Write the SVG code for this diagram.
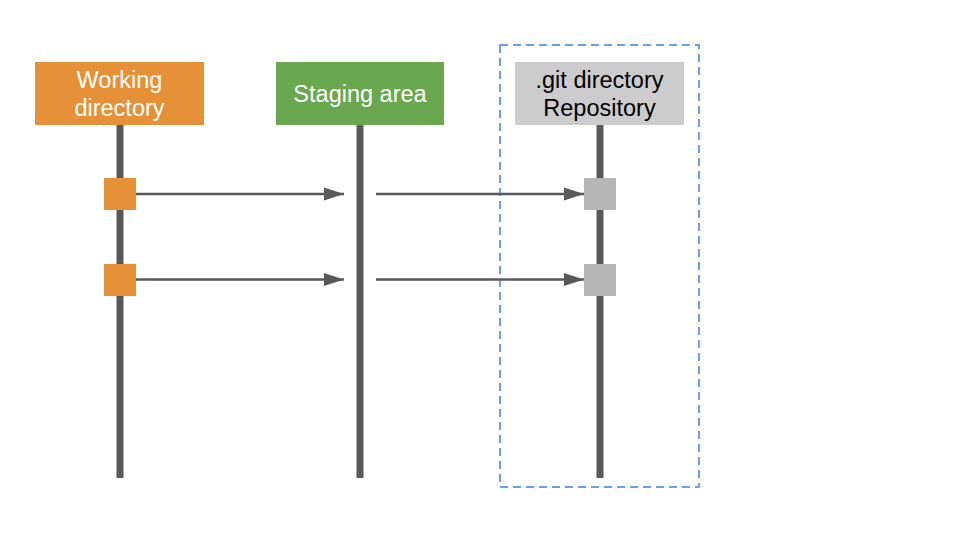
<svg xmlns="http://www.w3.org/2000/svg" width="960" height="540" viewBox="0 0 960 540">
<defs>
<style>
.lbl{font-family:"Liberation Sans",Arial,sans-serif;font-size:23.5px;text-anchor:middle}
.life{stroke:#595959;stroke-width:7}
.conn{stroke:#595959;stroke-width:2.5;fill:none}
</style>
<marker id="ah" markerWidth="20" markerHeight="14" viewBox="0 0 20 14" refX="20" refY="7" markerUnits="userSpaceOnUse" orient="auto">
<path d="M0,0.5 L20,7 L0,13.5 Z" fill="#595959"/>
</marker>
</defs>
<rect width="960" height="540" fill="#ffffff"/>
<g id="repo-boundary">
<rect x="500" y="45" width="199" height="442" fill="none" stroke="#6d9eeb" stroke-width="2" stroke-dasharray="8,5"/>
</g>
<g id="working">
<rect x="35" y="62" width="169" height="63" fill="#e69138"/>
<text class="lbl" x="119.5" y="88" fill="#ffffff">Working</text>
<text class="lbl" x="119.5" y="116" fill="#ffffff">directory</text>
<line class="life" x1="120" y1="125" x2="120" y2="478"/>
</g>
<g id="staging">
<rect x="276" y="62" width="168" height="63" fill="#6aa84f"/>
<text class="lbl" x="360" y="102" fill="#ffffff">Staging area</text>
<line class="life" x1="360" y1="125" x2="360" y2="478"/>
</g>
<g id="repository">
<rect x="515" y="62" width="169" height="63" fill="#cccccc"/>
<text class="lbl" x="599.5" y="88" fill="#000000">.git directory</text>
<text class="lbl" x="599.5" y="116" fill="#000000">Repository</text>
<line class="life" x1="600" y1="125" x2="600" y2="478"/>
</g>
<g id="connectors">
<line class="conn" x1="136" y1="194" x2="344" y2="194" marker-end="url(#ah)"/>
<line class="conn" x1="376" y1="194" x2="584" y2="194" marker-end="url(#ah)"/>
<line class="conn" x1="136" y1="279.5" x2="344" y2="279.5" marker-end="url(#ah)"/>
<line class="conn" x1="376" y1="279.5" x2="584" y2="279.5" marker-end="url(#ah)"/>
</g>
<g id="wd-change-1"><rect x="104" y="178" width="32" height="32" fill="#e69138"/></g>
<g id="wd-change-2"><rect x="104" y="264" width="32" height="32" fill="#e69138"/></g>
<g id="repo-commit-1"><rect x="584" y="178" width="32" height="32" fill="#b7b7b7"/></g>
<g id="repo-commit-2"><rect x="584" y="264" width="32" height="32" fill="#b7b7b7"/></g>
</svg>
